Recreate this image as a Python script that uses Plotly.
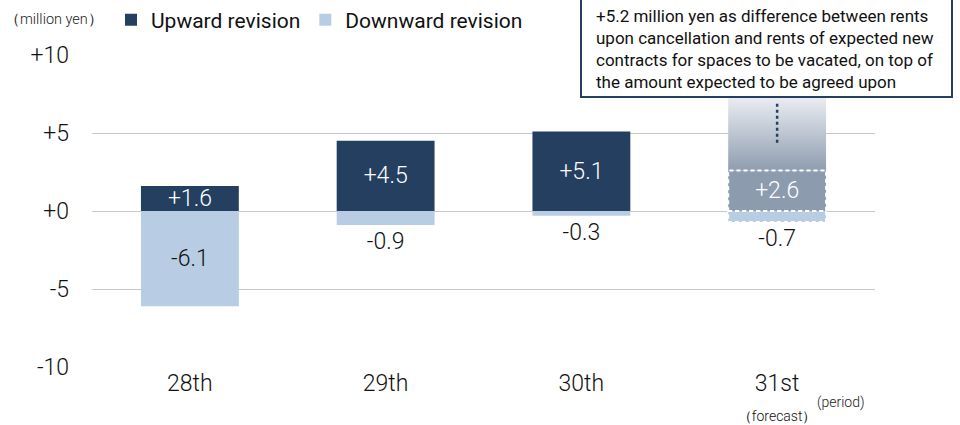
import plotly.graph_objects as go

categories = ["28th", "29th", "30th", "31st"]
upward = [1.6, 4.5, 5.1, 2.6]
downward = [-6.1, -0.9, -0.3, -0.7]
forecast_extra = 5.2
y_ticks = [10, 5, 0, -5, -10]
y_tick_labels = ["+10", "+5", "+0", "-5", "-10"]

NAVY = "#243f60"
LIGHT = "#b8cce4"
GREY = "#8d9bae"
FONT = "Roboto"
WT = 300
BAR_W = 0.5

W, H = 960, 425
ML, MR, MT, MB = 92, 85, 55, 58
PW, PH = W - ML - MR, H - MT - MB


def px_x(p):
    return (p - ML) / PW


def px_y(p):
    return (H - MB - p) / PH


xs = list(range(len(categories)))
fi = len(categories) - 1  # forecast index

up_colors = [NAVY] * (len(categories) - 1) + [GREY]
down_text_pos = ["inside"] + ["outside"] * (len(categories) - 1)

fig = go.Figure()

# gradient area for forecast extra amount
x0f, x1f = xs[fi] - BAR_W / 2, xs[fi] + BAR_W / 2
ybase = upward[fi]
ytop = upward[fi] + forecast_extra
fig.add_trace(go.Scatter(
    x=[x0f, x1f, x1f, x0f, x0f], y=[ybase, ybase, ytop, ytop, ybase],
    mode="lines", line=dict(width=0), fill="toself",
    fillgradient=dict(type="vertical", colorscale=[[0, "#8f9db0"], [1, "#f4f6f9"]]),
    hoverinfo="skip", showlegend=False))

fig.add_trace(go.Bar(
    x=xs, y=upward, width=BAR_W, name="Upward revision",
    marker=dict(color=up_colors, line=dict(width=0)),
    text=[f"{v:+.1f}" for v in upward], textposition="inside",
    insidetextanchor="middle", constraintext="none",
    textfont=dict(color="white", size=23, family=FONT, weight=WT)))

fig.add_trace(go.Bar(
    x=xs, y=downward, width=BAR_W, name="Downward revision",
    marker=dict(color=LIGHT, line=dict(width=0)),
    text=[f"{v:.1f}" for v in downward], textposition=down_text_pos,
    insidetextanchor="middle", constraintext="none", cliponaxis=False,
    textfont=dict(color="#111111", size=23, family=FONT, weight=WT)))

# dashed white borders for forecast bars
for y0, y1 in [(0, upward[fi]), (0, downward[fi])]:
    fig.add_shape(type="rect", xref="x", yref="y", x0=x0f, x1=x1f, y0=y0, y1=y1,
                  line=dict(color="white", width=2, dash="4px,3px"), layer="above")

# dotted vertical line in the gradient area
fig.add_shape(type="line", xref="x", yref="y", x0=xs[fi], x1=xs[fi],
              y0=ybase + forecast_extra * 0.34, y1=ybase + forecast_extra * 0.83,
              line=dict(color=NAVY, width=2.5, dash="dot"), layer="above")

# note box
fig.add_shape(type="rect", xref="paper", yref="paper",
              x0=px_x(581), x1=px_x(952), y0=px_y(97), y1=px_y(-10),
              line=dict(color=NAVY, width=2), fillcolor="white", layer="above")
fig.add_annotation(
    xref="paper", yref="paper", x=px_x(595), y=px_y(93),
    xanchor="left", yanchor="bottom", align="left", showarrow=False,
    text="+5.2 million yen as difference between rents<br>upon cancellation and rents of expected new<br>contracts for spaces to be vacated, on top of<br>the amount expected to be agreed upon",
    font=dict(family=FONT, size=17, color="#111111", weight=400), borderpad=0)

fig.add_annotation(xref="paper", yref="paper", x=px_x(3), y=px_y(20),
                   xanchor="left", yanchor="middle", showarrow=False,
                   text="（million yen）", font=dict(family=FONT, size=14.5, color="#222222", weight=WT))
fig.add_annotation(xref="paper", yref="paper", x=px_x(815), y=px_y(402),
                   xanchor="left", yanchor="middle", showarrow=False,
                   text="(period)", font=dict(family=FONT, size=14, color="#222222", weight=WT))

tick_text = categories[:-1] + [categories[-1] + "<br><span style='font-size:14px'>（forecast）</span>"]

fig.update_layout(
    width=W, height=H, barmode="relative",
    margin=dict(l=ML, r=MR, t=MT, b=MB, autoexpand=False),
    paper_bgcolor="white", plot_bgcolor="white",
    font=dict(family=FONT, color="#111111", weight=WT),
    showlegend=True,
    legend=dict(orientation="h", xref="container", yref="container",
                x=111 / W, y=1 - 20 / H,
                xanchor="left", yanchor="middle", font=dict(size=21, family=FONT, weight=400),
                traceorder="normal", itemwidth=30, bgcolor="rgba(0,0,0,0)"),
    xaxis=dict(range=[-0.5, len(categories) - 0.5], tickvals=xs, ticktext=tick_text,
               showgrid=False, zeroline=False, showline=False, ticks="", automargin=False,
               tickfont=dict(size=23, family=FONT, color="#111111", weight=WT)),
    yaxis=dict(range=[-10, 10], tickvals=y_ticks, ticktext=y_tick_labels,
               showgrid=True, gridcolor="#c8c8c8", gridwidth=1.3, zeroline=False,
               ticks="", ticklabelstandoff=22, automargin=False,
               tickfont=dict(size=23, family=FONT, color="#111111", weight=WT)),
)

fig.write_html("out.html")
